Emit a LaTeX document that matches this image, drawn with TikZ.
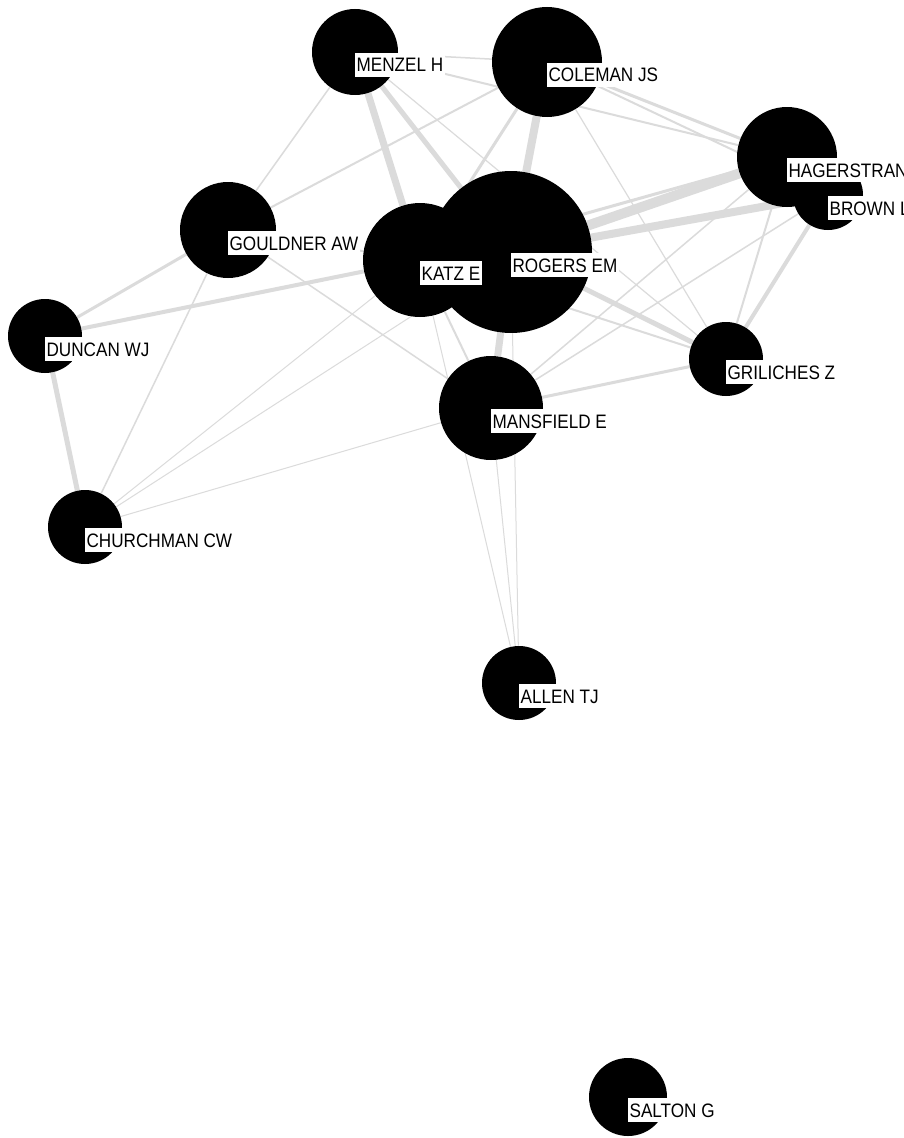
\documentclass[tikz,border=0pt]{standalone}
\usepackage{fontspec}
\newfontfamily\tagfont[FakeStretch=0.88]{Liberation Sans}
\usetikzlibrary{backgrounds}
\tikzset{
        x=0.75pt, y=-0.75pt, % one unit = one pixel of the plot
        actor/.style={circle, fill=black, inner sep=0pt, minimum size=#1*1.5pt},
        name tag/.style={fill=white, anchor=west, inner xsep=1pt, inner ysep=3.4pt,
                text height=10.5pt, text depth=0pt, yshift=-9.75pt,
                font=\tagfont\fontsize{14.6}{16}\selectfont},
        tie/.style={draw=black!14, line width=#1*0.75pt}
        }

\begin{document}
\begin{tikzpicture}
        \useasboundingbox (0,0) rectangle (903,1138);
        % actors, radius in pixels
        \node[actor=55](coleman) at (547,62){};
        \node[actor=43](menzel) at (355,52){};
        \node[actor=50](hager) at (787,157){};
        \node[actor=35](brown) at (828,195){};
        \node[actor=48](gouldner) at (228,230){};
        \node[actor=57](katz) at (420,260){};
        \node[actor=81](rogers) at (511,252){};
        \node[actor=37](duncan) at (45,336){};
        \node[actor=37](griliches) at (726,359){};
        \node[actor=52](mansfield) at (491,408){};
        \node[actor=37](churchman) at (85,527){};
        \node[actor=37](allen) at (519,683){};
        \node[actor=39](salton) at (628,1097){};
        % ties
        \begin{scope}[on background layer]
        \fill[white] (0,0) rectangle (903,1138);
        \draw[tie=1.5] (menzel) -- (coleman);
        \draw[tie=1.5] (menzel) -- (gouldner);
        \draw[tie=7] (menzel) -- (katz);
        \draw[tie=5] (menzel) -- (rogers);
        \draw[tie=1.2] (menzel) -- (griliches);
        \draw[tie=2] (menzel) -- (hager);
        \draw[tie=2] (coleman) -- (gouldner);
        \draw[tie=3] (coleman) -- (katz);
        \draw[tie=8] (coleman) -- (rogers);
        \draw[tie=3] (coleman) -- (hager);
        \draw[tie=2] (coleman) -- (brown);
        \draw[tie=1.2] (coleman) -- (griliches);
        \draw[tie=10] (rogers) -- (hager);
        \draw[tie=8] (rogers) -- (brown);
        \draw[tie=3] (katz) -- (hager);
        \draw[tie=5] (rogers) -- (griliches);
        \draw[tie=2] (katz) -- (griliches);
        \draw[tie=3] (mansfield) -- (griliches);
        \draw[tie=2] (hager) -- (griliches);
        \draw[tie=4] (brown) -- (griliches);
        \draw[tie=1.5] (brown) -- (mansfield);
        \draw[tie=1.5] (hager) -- (mansfield);
        \draw[tie=7] (rogers) -- (mansfield);
        \draw[tie=2] (katz) -- (mansfield);
        \draw[tie=2] (gouldner) -- (katz);
        \draw[tie=1.5] (gouldner) -- (mansfield);
        \draw[tie=3] (gouldner) -- (duncan);
        \draw[tie=1.5] (gouldner) -- (churchman);
        \draw[tie=4] (duncan) -- (katz);
        \draw[tie=5] (duncan) -- (churchman);
        \draw[tie=1] (churchman) -- (katz);
        \draw[tie=1] (churchman) -- (rogers);
        \draw[tie=1] (churchman) -- (mansfield);
        \draw[tie=1] (allen) -- (katz);
        \draw[tie=1] (allen) -- (mansfield);
        \draw[tie=1] (allen) -- (rogers);
        \end{scope}
        % name tags
        \node[name tag](colemanT) at (coleman){COLEMAN JS};
        \node[name tag](menzelT) at (menzel){MENZEL H};
        \node[name tag](hagerT) at (hager){HAGERSTRAND};
        \node[name tag](brownT) at (brown){BROWN L};
        \node[name tag](gouldnerT) at (gouldner){GOULDNER AW};
        \node[name tag](rogersT) at (rogers){ROGERS EM};
        \node[name tag](katzT) at (katz){KATZ E};
        \node[name tag](duncanT) at (duncan){DUNCAN WJ};
        \node[name tag](grilichesT) at (griliches){GRILICHES Z};
        \node[name tag](mansfieldT) at (mansfield){MANSFIELD E};
        \node[name tag](churchmanT) at (churchman){CHURCHMAN CW};
        \node[name tag](allenT) at (allen){ALLEN TJ};
        \node[name tag](saltonT) at (salton){SALTON G};
\end{tikzpicture}
\end{document}
